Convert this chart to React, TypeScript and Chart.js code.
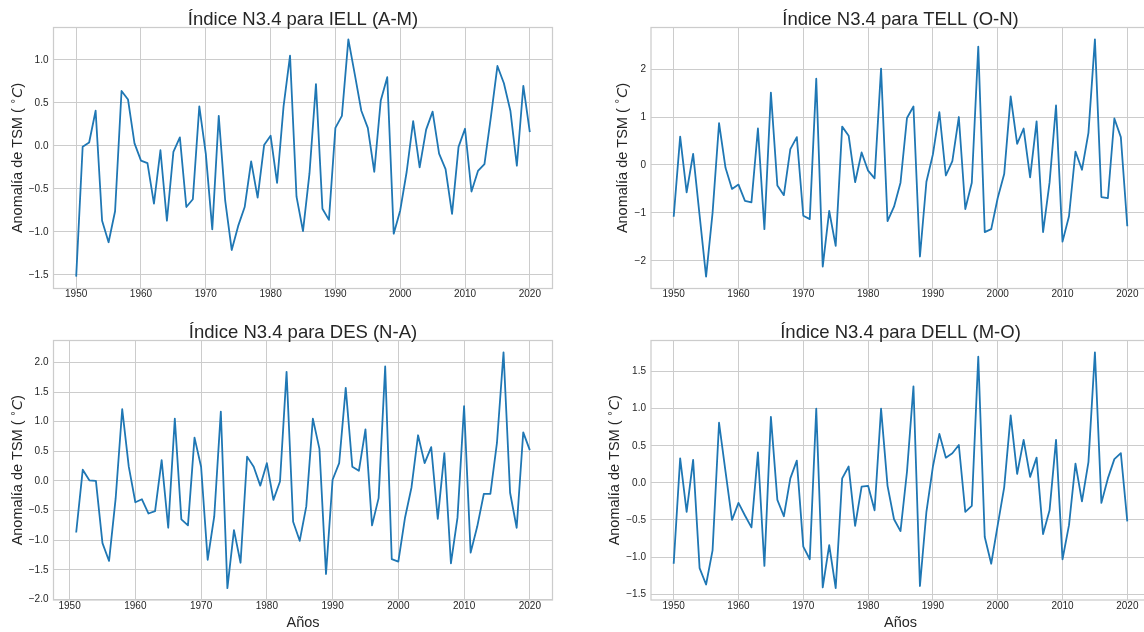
import React, { useEffect, useRef } from "react";
import { Chart, registerables } from "chart.js";

Chart.register(...registerables);

// ---------- data ----------
const IELL_START = 1950;
const iellValues = [
  -1.52, -0.01, 0.04, 0.41, -0.87, -1.12, -0.76, 0.64, 0.54, 0.03,
  -0.17, -0.2, -0.67, -0.05, -0.87, -0.07, 0.1, -0.71, -0.62, 0.46,
  -0.09, -0.97, 0.35, -0.64, -1.21, -0.93, -0.71, -0.18, -0.6, 0.01,
  0.12, -0.43, 0.46, 1.05, -0.59, -0.99, -0.32, 0.72, -0.73, -0.86,
  0.21, 0.35, 1.24, 0.83, 0.41, 0.21, -0.3, 0.53, 0.8, -1.02,
  -0.75, -0.3, 0.29, -0.25, 0.19, 0.4, -0.09, -0.27, -0.79, -0.01,
  0.2, -0.53, -0.29, -0.21, 0.34, 0.93, 0.73, 0.41, -0.23, 0.7, 0.16,
];

const TELL_START = 1950;
const tellValues = [
  -1.08, 0.59, -0.57, 0.23, -1.05, -2.33, -1.0, 0.87, -0.06, -0.5,
  -0.41, -0.75, -0.78, 0.76, -1.34, 1.51, -0.43, -0.63, 0.33, 0.58,
  -1.06, -1.13, 1.8, -2.12, -0.96, -1.69, 0.8, 0.61, -0.36, 0.26,
  -0.12, -0.28, 2.01, -1.17, -0.87, -0.37, 0.98, 1.22, -1.91, -0.35,
  0.22, 1.1, -0.22, 0.08, 1.0, -0.92, -0.37, 2.47, -1.4, -1.34,
  -0.69, -0.19, 1.43, 0.44, 0.76, -0.26, 0.91, -1.4, -0.37, 1.24,
  -1.6, -1.07, 0.28, -0.1, 0.67, 2.62, -0.67, -0.69, 0.97, 0.58, -1.28,
];

const DES_START = 1951;
const desValues = [
  -0.87, 0.19, 0.01, 0.0, -1.05, -1.35, -0.3, 1.21, 0.24, -0.36,
  -0.31, -0.55, -0.51, 0.35, -0.79, 1.05, -0.65, -0.75, 0.73, 0.24,
  -1.33, -0.6, 1.17, -1.81, -0.83, -1.38, 0.41, 0.24, -0.08, 0.3,
  -0.32, -0.01, 1.84, -0.69, -1.01, -0.43, 1.05, 0.54, -1.57, 0.02,
  0.3, 1.57, 0.24, 0.17, 0.87, -0.75, -0.29, 1.93, -1.32, -1.36,
  -0.63, -0.11, 0.77, 0.3, 0.57, -0.64, 0.47, -1.39, -0.62, 1.26,
  -1.21, -0.77, -0.22, -0.22, 0.64, 2.17, -0.2, -0.79, 0.82, 0.52,
];

const DELL_START = 1950;
const dellValues = [
  -1.09, 0.33, -0.39, 0.31, -1.15, -1.37, -0.91, 0.81, 0.15, -0.5,
  -0.27, -0.44, -0.6, 0.41, -1.12, 0.89, -0.23, -0.45, 0.06, 0.3,
  -0.86, -1.03, 1.0, -1.41, -0.84, -1.42, 0.06, 0.22, -0.58, -0.05,
  -0.04, -0.37, 1.0, -0.04, -0.49, -0.65, 0.15, 1.3, -1.39, -0.39,
  0.22, 0.66, 0.34, 0.4, 0.51, -0.39, -0.31, 1.7, -0.73, -1.09,
  -0.57, -0.06, 0.91, 0.12, 0.58, 0.08, 0.34, -0.69, -0.37, 0.58,
  -1.03, -0.57, 0.26, -0.25, 0.28, 1.76, -0.27, 0.06, 0.32, 0.4, -0.52,
];

const X_TICKS = [1950, 1960, 1970, 1980, 1990, 2000, 2010, 2020];
const Y_TICKS_IELL = [-1.5, -1.0, -0.5, 0.0, 0.5, 1.0];
const Y_TICKS_TELL = [-2, -1, 0, 1, 2];
const Y_TICKS_DES = [-2.0, -1.5, -1.0, -0.5, 0.0, 0.5, 1.0, 1.5, 2.0];
const Y_TICKS_DELL = [-1.5, -1.0, -0.5, 0.0, 0.5, 1.0, 1.5];

const TITLES = [
  "Índice N3.4 para IELL (A-M)",
  "Índice N3.4 para TELL (O-N)",
  "Índice N3.4 para DES (N-A)",
  "Índice N3.4 para DELL (M-O)",
];
const Y_LABEL = "Anomalía de TSM ( ";
const X_LABEL = "Años";

// ---------- layout ----------
const CANVAS_W = 1160;
const CANVAS_H = 632;
const Y_AXIS_W = 45;
const X_AXIS_H = 25;
const TEXT_COLOR = "#262626";
const GRID_COLOR = "#cccccc";
const LINE_COLOR = "#1f77b4";
const FONT = '"Liberation Sans", Arial, sans-serif';

type Box = { l: number; t: number; r: number; b: number };
type Panel = {
  title: string;
  start: number;
  values: number[];
  yTicks: number[];
  yDec: number;
  box: Box;
  yLabelX: number;
  showXLabel: boolean;
};

const PANELS: Panel[] = [
  { title: TITLES[0], start: IELL_START, values: iellValues, yTicks: Y_TICKS_IELL, yDec: 1,
    box: { l: 53.5, t: 27.5, r: 552.5, b: 288.5 }, yLabelX: 22, showXLabel: false },
  { title: TITLES[1], start: TELL_START, values: tellValues, yTicks: Y_TICKS_TELL, yDec: 0,
    box: { l: 651, t: 27.5, r: 1150, b: 288.5 }, yLabelX: 626.5, showXLabel: false },
  { title: TITLES[2], start: DES_START, values: desValues, yTicks: Y_TICKS_DES, yDec: 1,
    box: { l: 53.5, t: 340.5, r: 552.5, b: 600 }, yLabelX: 22, showXLabel: true },
  { title: TITLES[3], start: DELL_START, values: dellValues, yTicks: Y_TICKS_DELL, yDec: 1,
    box: { l: 651, t: 340.5, r: 1150, b: 600 }, yLabelX: 619, showXLabel: true },
];

function margins(lo: number, hi: number): [number, number] {
  const m = (hi - lo) * 0.05;
  return [lo - m, hi + m];
}

function fmt(v: number, dec: number) {
  const s = Math.abs(v) < 1e-9 ? (0).toFixed(dec) : v.toFixed(dec);
  return s.replace("-", "\u2212");
}

const textPlugin = {
  id: "panelText",
  afterDraw(chart: any, _args: any, opts: any) {
    const ctx: CanvasRenderingContext2D = chart.ctx;
    const a = chart.chartArea;
    const cx = (a.left + a.right) / 2;
    const cy = (a.top + a.bottom) / 2;
    ctx.save();
    // frame (all four spines)
    ctx.strokeStyle = GRID_COLOR;
    ctx.lineWidth = 1.25;
    ctx.strokeRect(a.left, a.top, a.right - a.left, a.bottom - a.top);

    ctx.fillStyle = TEXT_COLOR;
    // title
    ctx.font = `18.5px ${FONT}`;
    ctx.textAlign = "center";
    ctx.textBaseline = "alphabetic";
    ctx.fillText(opts.title, cx, a.top - 2.5);

    // x label
    if (opts.showXLabel) {
      ctx.font = `14.5px ${FONT}`;
      ctx.fillText(X_LABEL, cx, a.bottom + 27.3);
    }

    // y label with mathtext-like ( °C)
    const fs = 14.5;
    const mainFont = `${fs}px ${FONT}`;
    const supFont = `${fs * 0.7}px "DejaVu Sans", sans-serif`;
    const itFont = `italic ${fs}px "DejaVu Sans", sans-serif`;
    const parts: [string, string, number][] = [
      [Y_LABEL, mainFont, 0],
      ["\u2218", supFont, -fs * 0.42],
      ["C", itFont, 0],
      [")", mainFont, 0],
    ];
    let total = 0;
    const widths: number[] = [];
    for (const [t, f] of parts) {
      ctx.font = f;
      const w = ctx.measureText(t).width;
      widths.push(w);
      total += w;
    }
    ctx.translate(opts.yLabelX, cy);
    ctx.rotate(-Math.PI / 2);
    ctx.textAlign = "left";
    let x = -total / 2;
    parts.forEach(([t, f, dy], i) => {
      ctx.font = f;
      ctx.fillText(t, x, dy);
      x += widths[i];
    });
    ctx.restore();
  },
};

function PanelChart({ panel }: { panel: Panel }) {
  const ref = useRef<HTMLCanvasElement | null>(null);
  useEffect(() => {
    if (!ref.current) return;
    const n = panel.values.length;
    const pts = panel.values.map((v, i) => ({ x: panel.start + i, y: v }));
    const [xmin, xmax] = margins(panel.start, panel.start + n - 1);
    const [ymin, ymax] = margins(Math.min(...panel.values), Math.max(...panel.values));
    const b = panel.box;
    const tickFont = { family: FONT, size: 10 };
    const chart = new Chart(ref.current, {
      type: "line",
      data: {
        datasets: [
          {
            data: pts,
            borderColor: LINE_COLOR,
            backgroundColor: LINE_COLOR,
            borderWidth: 1.8,
            borderJoinStyle: "round",
            pointRadius: 0,
            tension: 0,
            fill: false,
          },
        ],
      },
      options: {
        responsive: false,
        animation: false,
        devicePixelRatio: 1,
        events: [],
        layout: {
          padding: {
            left: b.l - Y_AXIS_W,
            top: b.t,
            right: CANVAS_W - b.r,
            bottom: CANVAS_H - b.b - X_AXIS_H,
          },
        },
        plugins: {
          legend: { display: false },
          tooltip: { enabled: false },
          title: { display: false },
          panelText: { title: panel.title, yLabelX: panel.yLabelX, showXLabel: panel.showXLabel },
        } as any,
        scales: {
          x: {
            type: "linear",
            min: xmin,
            max: xmax,
            afterBuildTicks: (s: any) => {
              s.ticks = X_TICKS.map((v) => ({ value: v }));
            },
            afterFit: (s: any) => {
              s.height = X_AXIS_H;
            },
            grid: { color: GRID_COLOR, lineWidth: 1, drawTicks: false },
            border: { display: false },
            ticks: {
              padding: 0,
              font: tickFont,
              color: TEXT_COLOR,
              maxRotation: 0,
              minRotation: 0,
              autoSkip: false,
              callback: (v: any) => String(v),
            },
          },
          y: {
            type: "linear",
            min: ymin,
            max: ymax,
            afterBuildTicks: (s: any) => {
              s.ticks = panel.yTicks.map((v) => ({ value: v }));
            },
            afterFit: (s: any) => {
              s.width = Y_AXIS_W;
            },
            grid: { color: GRID_COLOR, lineWidth: 1, drawTicks: false },
            border: { display: false },
            ticks: {
              padding: 5,
              font: tickFont,
              color: TEXT_COLOR,
              autoSkip: false,
              callback: (v: any) => fmt(Number(v), panel.yDec),
            },
          },
        },
      } as any,
      plugins: [textPlugin as any],
    });
    return () => chart.destroy();
  }, [panel]);
  return (
    <canvas
      ref={ref}
      width={CANVAS_W}
      height={CANVAS_H}
      style={{ position: "absolute", left: 0, top: 0, width: CANVAS_W, height: CANVAS_H }}
    />
  );
}

export default function App() {
  return (
    <div
      style={{
        position: "absolute",
        left: 0,
        top: 0,
        width: 1144,
        height: 632,
        overflow: "hidden",
        background: "#ffffff",
      }}
    >
      {PANELS.map((p, i) => (
        <PanelChart key={i} panel={p} />
      ))}
    </div>
  );
}
